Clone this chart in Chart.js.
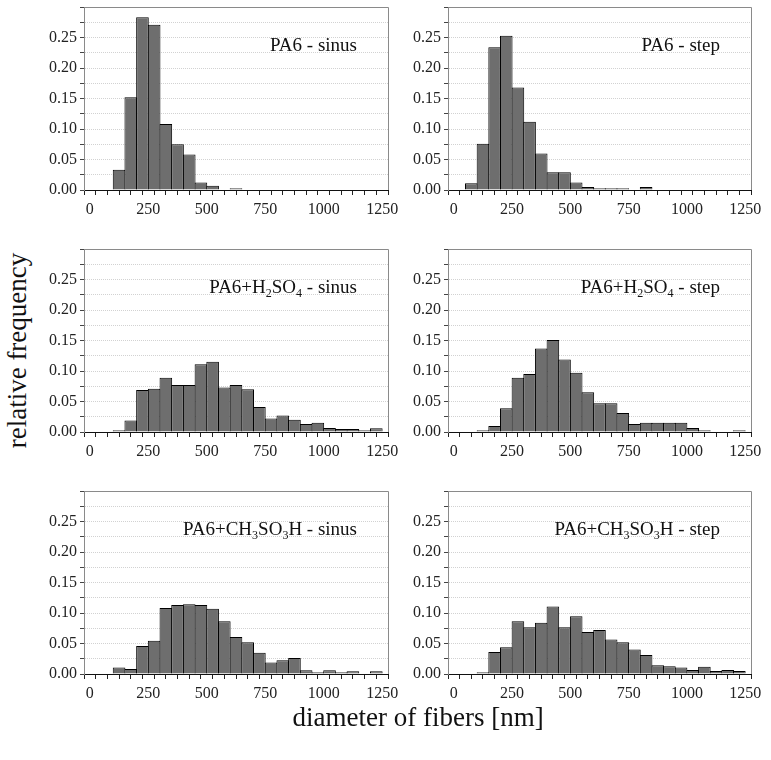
<!DOCTYPE html>
<html>
<head>
<meta charset="utf-8">
<script src="https://cdn.jsdelivr.net/npm/chart.js@4.4.1/dist/chart.umd.min.js"></script>
<style>
	body { margin: 0; background: #fff; width: 771px; height: 760px; position: relative; overflow: hidden; font-family: "Liberation Serif", serif; }
	canvas { position: absolute; }
	.lbl { position: absolute; font-size: 19px; line-height: 22px; color: #111; text-align: right; white-space: nowrap; }
	.lbl sub { font-size: 12px; vertical-align: -4px; line-height: 0; }
	.axis-title { position: absolute; font-size: 27px; color: #111; white-space: nowrap; }
</style>
</head>
<body>
<canvas id="c1" width="375" height="230" style="left:34px;top:0px"></canvas>
<canvas id="c2" width="373" height="230" style="left:398px;top:0px"></canvas>
<canvas id="c3" width="375" height="230" style="left:34px;top:242px"></canvas>
<canvas id="c4" width="373" height="230" style="left:398px;top:242px"></canvas>
<canvas id="c5" width="375" height="230" style="left:34px;top:484px"></canvas>
<canvas id="c6" width="373" height="230" style="left:398px;top:484px"></canvas>
<div class="axis-title" id="ytitle">relative frequency</div>
<div class="axis-title" id="xtitle">diameter of fibers [nm]</div>
<script>
// bin centres of the 50 nm histogram classes
const binCenters = [25, 75, 125, 175, 225, 275, 325, 375, 425, 475, 525, 575, 625,
	675, 725, 775, 825, 875, 925, 975, 1025, 1075, 1125, 1175, 1225];

// relative frequencies
const pa6Sinus = [0, 0, 0.033, 0.152, 0.283, 0.271, 0.108, 0.075, 0.058, 0.0125, 0.007, 0, 0.003,
	0, 0, 0, 0, 0, 0, 0, 0, 0, 0, 0, 0];
const pa6Step = [0, 0.011, 0.076, 0.234, 0.253, 0.168, 0.112, 0.060, 0.029, 0.029, 0.0125, 0.005, 0.003,
	0.003, 0.003, 0, 0.005, 0, 0, 0, 0, 0, 0, 0, 0];
const h2so4Sinus = [0, 0, 0.003, 0.019, 0.069, 0.071, 0.089, 0.077, 0.077, 0.111, 0.115, 0.073, 0.077,
	0.070, 0.041, 0.022, 0.027, 0.020, 0.013, 0.015, 0.0066, 0.005, 0.005, 0.003, 0.006];
const h2so4Step = [0, 0, 0.003, 0.010, 0.039, 0.089, 0.095, 0.137, 0.151, 0.119, 0.097, 0.065, 0.047,
	0.047, 0.031, 0.013, 0.015, 0.015, 0.015, 0.015, 0.0066, 0.003, 0, 0, 0.003];
const msaSinus = [0, 0, 0.0105, 0.008, 0.046, 0.0545, 0.108, 0.113, 0.1145, 0.113, 0.107, 0.0865, 0.0606,
	0.052, 0.0347, 0.0187, 0.0226, 0.0264, 0.006, 0.003, 0.006, 0.003, 0.0044, 0, 0.0044];
const msaStep = [0, 0, 0.003, 0.036, 0.044, 0.0865, 0.0765, 0.084, 0.1107, 0.0765, 0.0947, 0.0688, 0.072,
	0.0567, 0.052, 0.040, 0.031, 0.0143, 0.0127, 0.0105, 0.0066, 0.012, 0.005, 0.0066, 0.005];

// x tick labels shown every 250 nm, y labels every 0.05
const xTickLabels = [0, 250, 500, 750, 1000, 1250];
const yTickLabels = [0, 0.05, 0.10, 0.15, 0.20, 0.25];

const panelTitles = [
	"PA6 - sinus",
	"PA6 - step",
	"PA6+H<sub>2</sub>SO<sub>4</sub> - sinus",
	"PA6+H<sub>2</sub>SO<sub>4</sub> - step",
	"PA6+CH<sub>3</sub>SO<sub>3</sub>H - sinus",
	"PA6+CH<sub>3</sub>SO<sub>3</sub>H - step",
];
const panelSeries = [pa6Sinus, pa6Step, h2so4Sinus, h2so4Step, msaSinus, msaStep];
// right padding so every plot ends at the same x as in the figure
const rightPad = [21, 20, 21, 20, 21, 20];

Chart.defaults.font.family = "'Liberation Serif', serif";
Chart.defaults.font.size = 16;
Chart.defaults.color = "#222";

// top and right frame lines of each plot
const framePlugin = {
	id: "frame",
	beforeDatasetsDraw(chart) {
		const { ctx, chartArea: a } = chart;
		ctx.save();
		ctx.strokeStyle = "#8a8a8a";
		ctx.lineWidth = 1;
		ctx.beginPath();
		ctx.moveTo(a.left, a.top + 0.5);
		ctx.lineTo(a.right + 0.5, a.top + 0.5);
		ctx.lineTo(a.right + 0.5, a.bottom);
		ctx.stroke();
		ctx.restore();
	},
};

function makePanel(id, values, padRight) {
	const ctx = document.getElementById(id);
	return new Chart(ctx, {
		type: "bar",
		data: {
			datasets: [
				{
					data: binCenters.map((x, i) => ({ x: x, y: values[i] })),
					backgroundColor: "#6e6e6e",
					borderColor: "#000",
					borderWidth: 1,
					borderSkipped: "start",
					barPercentage: 1.08, // overlap 1px so neighbours share an edge
					categoryPercentage: 1,
					grouped: false,
				},
			],
		},
		options: {
			responsive: false,
			animation: false,
			events: [],
			layout: { autoPadding: false, padding: { top: 7, right: padRight, left: 0, bottom: 0 } },
			plugins: { legend: { display: false }, tooltip: { enabled: false } },
			scales: {
				x: {
					type: "linear",
					min: 0,
					max: 1250,
					ticks: {
						stepSize: 50,
						autoSkip: false,
						maxRotation: 0,
						padding: 5,
						callback: (v) => (xTickLabels.includes(v) ? String(v) : ""),
					},
					grid: { drawOnChartArea: false, tickLength: 5, tickColor: "#222" },
					border: { color: "#111" },
					afterFit: (s) => {
						s.height = 40;
						s.paddingLeft = 0;
						s.paddingRight = 0;
					},
				},
				y: {
					min: 0,
					max: 0.3,
					ticks: {
						stepSize: 0.025,
						autoSkip: false,
						padding: 3,
						callback: (v) => {
							const r = Math.round(v * 1000) / 1000;
							return yTickLabels.includes(r) ? r.toFixed(2) : "";
						},
					},
					grid: {
						tickLength: 4,
						tickColor: "#444",
						color: (c) => (c.tick && (c.tick.value < 0.001 || c.tick.value > 0.299) ? "rgba(0,0,0,0)" : "#d2d2d2"),
					},
					border: { color: "#8a8a8a", dash: [1, 1] },
					afterFit: (s) => {
						s.width = 50;
						s.paddingTop = 0;
						s.paddingBottom = 0;
					},
				},
			},
		},
		plugins: [framePlugin],
	});
}

const ids = ["c1", "c2", "c3", "c4", "c5", "c6"];
ids.forEach((id, i) => {
	const chart = makePanel(id, panelSeries[i], rightPad[i]);
	// panel caption placed inside the plot, upper right
	const cv = document.getElementById(id);
	const a = chart.chartArea;
	const left = cv.offsetLeft + a.left;
	const right = cv.offsetLeft + a.right - 31;
	const lbl = document.createElement("div");
	lbl.className = "lbl";
	lbl.innerHTML = panelTitles[i];
	lbl.style.left = left + "px";
	lbl.style.width = right - left + "px";
	lbl.style.top = cv.offsetTop + a.top + 38 - 11 + "px";
	document.body.appendChild(lbl);
});

// shared axis titles
const yt = document.getElementById("ytitle");
yt.style.left = 18 - yt.offsetWidth / 2 + "px";
yt.style.top = 350 - yt.offsetHeight / 2 + "px";
yt.style.transform = "rotate(-90deg)";
const xt = document.getElementById("xtitle");
xt.style.left = 418 - xt.offsetWidth / 2 + "px";
xt.style.top = 717 - xt.offsetHeight / 2 + "px";
</script>
</body>
</html>
